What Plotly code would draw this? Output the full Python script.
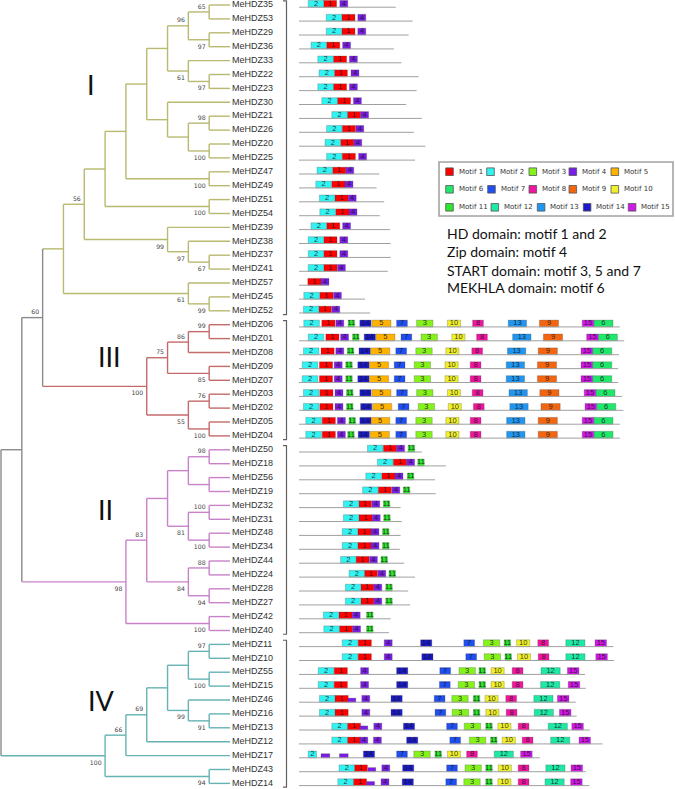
import re
import plotly.graph_objects as go

# ------------------------------------------------------------------
# DATA
# ------------------------------------------------------------------
# Tree topology (Newick) with bootstrap support values
A1 = "((MeHDZ35,MeHDZ53)65,(MeHDZ29,MeHDZ36)97)96"
A2 = "(MeHDZ33,(MeHDZ22,MeHDZ23)97)61"
B1 = "(MeHDZ30,((MeHDZ21,MeHDZ26)98,(MeHDZ20,MeHDZ25)100))"
CLADE_I = ("((((((" + A1 + "," + A2 + ")," + B1 + "),(MeHDZ47,MeHDZ49)100),(MeHDZ51,MeHDZ54)100),"
           "(MeHDZ39,(MeHDZ38,(MeHDZ37,MeHDZ41)67)97)99)56,(MeHDZ57,(MeHDZ45,MeHDZ52)99)61)")
CLADE_III = ("((((MeHDZ06,MeHDZ01)99,MeHDZ08)86,(MeHDZ09,MeHDZ07)85)75,"
             "((MeHDZ03,MeHDZ02)76,(MeHDZ05,MeHDZ04)100)55)100")
CLADE_II = ("(((((MeHDZ50,MeHDZ18)98,(MeHDZ56,MeHDZ19)),((MeHDZ32,MeHDZ31)100,(MeHDZ48,MeHDZ34)100)81),"
            "((MeHDZ44,MeHDZ24)88,(MeHDZ28,MeHDZ27)94)84)83,(MeHDZ42,MeHDZ40)100)98")
CLADE_IV = ("((((((MeHDZ11,MeHDZ10)97,(MeHDZ55,MeHDZ15)100),(MeHDZ46,(MeHDZ16,MeHDZ13)91)99),MeHDZ12)69,"
            "MeHDZ17)66,(MeHDZ43,MeHDZ14)94)100")
NEWICK = "(((" + CLADE_I + "," + CLADE_III + ")60," + CLADE_II + ")," + CLADE_IV + ");"

GROUP_NAMES = ["I", "III", "II", "IV"]
GROUP_CLADES = [CLADE_I, CLADE_III, CLADE_II, CLADE_IV]

GENES = ["MeHDZ35", "MeHDZ53", "MeHDZ29", "MeHDZ36", "MeHDZ33", "MeHDZ22", "MeHDZ23", "MeHDZ30",
         "MeHDZ21", "MeHDZ26", "MeHDZ20", "MeHDZ25", "MeHDZ47", "MeHDZ49", "MeHDZ51", "MeHDZ54",
         "MeHDZ39", "MeHDZ38", "MeHDZ37", "MeHDZ41", "MeHDZ57", "MeHDZ45", "MeHDZ52",
         "MeHDZ06", "MeHDZ01", "MeHDZ08", "MeHDZ09", "MeHDZ07", "MeHDZ03", "MeHDZ02", "MeHDZ05", "MeHDZ04",
         "MeHDZ50", "MeHDZ18", "MeHDZ56", "MeHDZ19", "MeHDZ32", "MeHDZ31", "MeHDZ48", "MeHDZ34",
         "MeHDZ44", "MeHDZ24", "MeHDZ28", "MeHDZ27", "MeHDZ42", "MeHDZ40",
         "MeHDZ11", "MeHDZ10", "MeHDZ55", "MeHDZ15", "MeHDZ46", "MeHDZ16", "MeHDZ13", "MeHDZ12",
         "MeHDZ17", "MeHDZ43", "MeHDZ14"]

# protein lengths (aa)
PROTEIN_LENGTH = [242, 284, 274, 237, 256, 299, 294, 268, 307, 287, 316, 290, 201, 194, 213, 202,
                  228, 229, 229, 222, 75, 165, 178,
                  802, 813, 800, 798, 798, 808, 811, 802, 802,
                  307, 367, 340, 342, 254, 257, 254, 252, 263, 290, 273, 278, 229, 225,
                  786, 788, 715, 717, 692, 694, 727, 759, 602, 717, 726]

# MEME motif widths (aa)
MOTIF_WIDTH = {1: 33, 2: 39, 3: 41, 4: 20, 5: 48, 6: 48, 7: 27, 8: 27, 9: 48, 10: 33,
               11: 16, 12: 48, 13: 46, 14: 28, 15: 29}

# motif sites: (motif, start aa[, width aa for partial hits][, 'p' = weak partial hit])
SITES = [
    [(2, 23), (1, 61), (4, 102)],
    [(2, 68), (1, 107), (4, 147)],
    [(2, 68), (1, 107), (4, 147)],
    [(2, 30), (1, 69), (4, 109)],
    [(2, 47), (1, 86), (4, 126)],
    [(2, 50), (1, 88), (4, 130)],
    [(2, 47), (1, 86), (4, 126)],
    [(2, 57), (1, 96), (4, 136)],
    [(2, 82), (1, 121), (4, 154)],
    [(2, 69), (1, 108), (4, 142)],
    [(2, 65), (1, 104), (4, 137)],
    [(2, 69), (1, 108), (4, 149)],
    [(2, 45), (1, 84), (4, 117)],
    [(2, 42), (1, 82), (4, 115)],
    [(2, 51), (1, 90), (4, 123)],
    [(2, 52), (1, 92), (4, 125)],
    [(2, 30), (1, 69), (4, 109)],
    [(2, 23), (1, 62), (4, 102)],
    [(2, 23), (1, 62), (4, 102)],
    [(2, 23), (1, 62), (4, 96)],
    [(1, 22), (4, 55)],
    [(2, 12), (1, 52), (4, 86)],
    [(2, 11), (1, 48), (4, 82)],
    # group III
    [(2, 12), (1, 57), (4, 92), (11, 123), (14, 152), (5, 182), (7, 244), (3, 294), (10, 371), (8, 434), (13, 523), (9, 601), (15, 708), (6, 737)],
    [(2, 23), (1, 67), (4, 104), (11, 134), (14, 163), (5, 192), (7, 255), (3, 305), (10, 382), (8, 444), (13, 534), (9, 611), (15, 719), (6, 748)],
    [(2, 11), (1, 55), (4, 92), (11, 121), (14, 150), (5, 179), (7, 242), (3, 292), (10, 367), (8, 432), (13, 521), (9, 598), (15, 705), (6, 734)],
    [(2, 8), (1, 51), (4, 88), (11, 117), (14, 147), (5, 176), (7, 238), (3, 288), (10, 365), (8, 428), (13, 518), (9, 596), (15, 705), (6, 734)],
    [(2, 8), (1, 51), (4, 88), (11, 117), (14, 147), (5, 176), (7, 238), (3, 288), (10, 365), (8, 428), (13, 518), (9, 596), (15, 705), (6, 734)],
    [(2, 11), (1, 52), (4, 90), (11, 119), (14, 152), (5, 182), (7, 244), (3, 294), (10, 371), (8, 433), (13, 525), (9, 602), (15, 713), (6, 742)],
    [(2, 11), (1, 52), (4, 90), (11, 119), (14, 154), (5, 184), (7, 248), (3, 298), (10, 373), (8, 436), (13, 527), (9, 605), (15, 715), (6, 744)],
    [(2, 17), (1, 58), (4, 96), (11, 125), (14, 152), (5, 179), (7, 242), (3, 292), (10, 367), (8, 428), (13, 519), (9, 598), (15, 708), (6, 737)],
    [(2, 17), (1, 58), (4, 96), (11, 122), (14, 148), (5, 178), (7, 242), (3, 292), (10, 367), (8, 428), (13, 519), (9, 598), (15, 708), (6, 737)],
    # group II
    [(2, 171), (1, 211), (4, 244), (11, 273)],
    [(2, 196), (1, 236), (4, 269), (11, 297)],
    [(2, 167), (1, 207), (4, 240), (11, 271)],
    [(2, 159), (1, 198), (4, 232), (11, 261)],
    [(2, 111), (1, 148), (4, 182), (11, 211)],
    [(2, 111), (1, 150), (4, 183), (11, 212)],
    [(2, 108), (1, 147), (4, 180), (11, 209)],
    [(2, 108), (1, 147), (4, 180), (11, 209)],
    [(2, 104), (1, 142), (4, 176), (11, 205)],
    [(2, 125), (1, 163), (4, 197), (11, 225)],
    [(2, 116), (1, 154), (4, 187), (11, 217)],
    [(2, 116), (1, 154), (4, 187), (11, 217)],
    [(2, 61), (1, 100), (4, 133), (11, 169)],
    [(2, 62), (1, 101), (4, 134), (11, 169)],
    # group IV
    [(2, 108), (1, 148), (4, 213), (14, 304), (7, 412), (3, 461), (11, 513), (10, 544), (8, 597), (12, 667), (15, 740)],
    [(2, 108), (1, 148), (4, 213), (14, 307), (7, 417), (3, 463), (11, 515), (10, 546), (8, 598), (12, 667), (15, 742)],
    [(2, 48), (1, 88), (4, 154), (14, 244), (7, 352), (3, 400), (11, 450), (10, 480), (8, 533), (12, 605), (15, 671)],
    [(2, 48), (1, 88), (4, 154), (14, 244), (7, 351), (3, 398), (11, 450), (10, 480), (8, 533), (12, 604), (15, 673)],
    [(2, 51), (1, 90), (4, 122, 20, "p"), (4, 157), (14, 230), (7, 338), (3, 382), (11, 436), (10, 465), (8, 517), (12, 587), (15, 646)],
    [(2, 51), (1, 90), (4, 157), (14, 230), (7, 340), (3, 383), (11, 436), (10, 467), (8, 518), (12, 588), (15, 651)],
    [(2, 82), (1, 121), (4, 152, 20, "p"), (4, 187), (14, 261), (7, 369), (3, 413), (11, 467), (10, 497), (8, 548), (12, 623), (15, 682)],
    [(2, 82), (1, 121), (4, 152), (4, 186), (14, 269), (7, 377), (3, 426), (11, 479), (10, 508), (8, 558), (12, 629), (15, 700)],
    [(2, 23, 21), (4, 55, 22, "p"), (4, 101, 22, "p"), (14, 161), (7, 244), (3, 287), (11, 340), (10, 371), (8, 419), (12, 488), (15, 554)],
    [(2, 100), (1, 138), (4, 172, 20, "p"), (4, 207), (14, 259), (7, 369), (3, 415), (11, 467), (10, 498), (8, 548), (12, 617), (15, 680)],
    [(2, 97), (1, 136), (4, 169, 20, "p"), (4, 205), (14, 258), (7, 367), (3, 412), (11, 467), (10, 497), (8, 548), (12, 615), (15, 679)],
]

MOTIF_COLOR = {1: "#ff0000", 2: "#33f2f2", 3: "#85f21c", 4: "#7a1ee6", 5: "#ffb300",
               6: "#1fe86a", 7: "#1f4ff0", 8: "#f0159e", 9: "#f26511", 10: "#f0f02a",
               11: "#2ee62e", 12: "#1ee8a6", 13: "#2196f0", 14: "#1a1acc", 15: "#d118e8"}

GROUP_COLOR = {"I": "#b9b970", "III": "#c46a6a", "II": "#c982c9", "IV": "#66b3b3"}
BACKBONE_COLOR = "#8a8a8a"

DOMAIN_NOTES = ["HD domain: motif 1 and 2", "Zip domain: motif 4",
                "START domain: motif 3, 5 and 7", "MEKHLA domain: motif 6"]

# ------------------------------------------------------------------
# LAYOUT CONSTANTS (pixels of the 675x789 canvas)
# ------------------------------------------------------------------
W, H = 675, 789
TREE_ROOT_PX, TREE_TIP_PX = 1.0, 230.0
ROW0_PX, ROW_PITCH = 5.0, 13.9
MOTIF_X0_PX, PX_PER_AA = 299.0, 0.4
BOX_H = 0.49            # rows
BOX_SHIFT_PX = 1.2


# ------------------------------------------------------------------
# Newick parsing and cladogram layout
# ------------------------------------------------------------------
def parse(s, i=0):
    if s[i] == "(":
        children = []
        i += 1
        while True:
            child, i = parse(s, i)
            children.append(child)
            if s[i] == ",":
                i += 1
            else:
                i += 1
                break
        j = i
        while i < len(s) and s[i] not in ",();":
            i += 1
        return {"children": children, "bs": s[j:i]}, i
    j = i
    while s[i] not in ",();":
        i += 1
    return {"children": [], "name": s[j:i]}, i


root, _ = parse(NEWICK)
leaf_order = []


def layout(n):
    if not n["children"]:
        n["y"] = len(leaf_order)
        leaf_order.append(n["name"])
        n["h"] = 0
        n["leaves"] = {n["name"]}
    else:
        for c in n["children"]:
            layout(c)
        n["y"] = (n["children"][0]["y"] + n["children"][-1]["y"]) / 2
        n["h"] = max(c["h"] for c in n["children"]) + 1
        n["leaves"] = set().union(*[c["leaves"] for c in n["children"]])


layout(root)
assert leaf_order == GENES, leaf_order
HROOT = root["h"]

group_of = {}
for g, clade in zip(GROUP_NAMES, GROUP_CLADES):
    for name in re.findall(r"MeHDZ\d+", clade):
        group_of[name] = g


def node_color(n):
    gs = {group_of[x] for x in n["leaves"]}
    return GROUP_COLOR[gs.pop()] if len(gs) == 1 else BACKBONE_COLOR


segs = {}
boot = []  # (x, y, text, above)


def walk(n):
    n["x"] = HROOT - n["h"]
    for c in n["children"]:
        walk(c)
    if n["children"]:
        col = node_color(n)
        segs.setdefault(col, []).extend(
            [(n["x"], n["children"][0]["y"]), (n["x"], n["children"][-1]["y"]), (None, None)])
        for c in n["children"]:
            ccol = node_color(c)
            segs.setdefault(ccol, []).extend([(n["x"], c["y"]), (c["x"], c["y"]), (None, None)])
        for k, c in enumerate(n["children"]):
            if c["children"] and c.get("bs"):
                boot.append((c["x"], c["y"], c["bs"], k == 0))


walk(root)

U = (TREE_TIP_PX - TREE_ROOT_PX) / HROOT
xr = [(0 - TREE_ROOT_PX) / U, (W - TREE_ROOT_PX) / U]
yr = [(H - ROW0_PX) / ROW_PITCH, -ROW0_PX / ROW_PITCH]
sh = BOX_SHIFT_PX / ROW_PITCH
y2r = [yr[0] + sh, yr[1] + sh]
x2r = [-MOTIF_X0_PX / PX_PER_AA, (W - MOTIF_X0_PX) / PX_PER_AA]

fig = go.Figure()

# tree branches
for col, pts in segs.items():
    fig.add_trace(go.Scatter(x=[p[0] for p in pts], y=[p[1] for p in pts], mode="lines",
                             line=dict(color=col, width=1.4), hoverinfo="skip",
                             xaxis="x", yaxis="y"))

# bootstrap values
bx, by, bt = [], [], []
for x, y, t, above in boot:
    bx.append(x - 3.5 / U)
    by.append(y + (-4.9 if above else 7.4) / ROW_PITCH)
    bt.append(t)
fig.add_trace(go.Scatter(x=bx, y=by, text=bt, mode="text", textposition="middle left",
                         textfont=dict(family="DejaVu Sans", size=6.2, color="#444"),
                         hoverinfo="skip", xaxis="x", yaxis="y"))

# gene labels
fig.add_trace(go.Scatter(x=[HROOT + 2.0 / U] * len(GENES), y=list(range(len(GENES))), text=GENES,
                         mode="text", textposition="middle right",
                         textfont=dict(family="Liberation Sans", size=9.0, color="#333"),
                         hoverinfo="skip", xaxis="x", yaxis="y"))

# protein backbone lines
lx, ly = [], []
for r, L in enumerate(PROTEIN_LENGTH):
    lx += [0, L, None]
    ly += [r + BOX_H / 2, r + BOX_H / 2, None]
fig.add_trace(go.Scatter(x=lx, y=ly, mode="lines", line=dict(color="#a0a0a0", width=1),
                         hoverinfo="skip", xaxis="x2", yaxis="y2"))

# motif boxes
tx, ty, tt = [], [], []
for m in range(1, 16):
    ys, bases, ws = [], [], []
    pys, pbases, pws = [], [], []
    for r, sites in enumerate(SITES):
        for s in sites:
            if s[0] != m:
                continue
            start = s[1]
            w = s[2] if len(s) > 2 else MOTIF_WIDTH[m]
            partial = len(s) > 3
            if partial:
                pys.append(r + BOX_H / 2 - BOX_H * 0.3)
                pbases.append(start)
                pws.append(w)
            else:
                ys.append(r)
                bases.append(start)
                ws.append(w)
                tx.append(start + w / 2)
                ty.append(r)
                tt.append(str(m))
    if ys:
        fig.add_trace(go.Bar(orientation="h", y=ys, x=ws, base=bases, width=BOX_H,
                             marker=dict(color=MOTIF_COLOR[m], line=dict(color="rgba(70,70,70,0.45)", width=0.6)),
                             hoverinfo="skip", xaxis="x2", yaxis="y2"))
    if pys:
        fig.add_trace(go.Bar(orientation="h", y=pys, x=pws, base=pbases, width=BOX_H * 0.6,
                             marker=dict(color=MOTIF_COLOR[m], line=dict(color="rgba(70,70,70,0.45)", width=0.6)),
                             hoverinfo="skip", xaxis="x2", yaxis="y2"))

fig.add_trace(go.Scatter(x=tx, y=ty, text=tt, mode="text", textposition="middle center",
                         textfont=dict(family="Liberation Sans", size=7.5, color="rgba(20,20,20,0.85)"),
                         hoverinfo="skip", xaxis="x2", yaxis="y2"))

# group brackets
bkx, bky = [], []
for clade in GROUP_CLADES:
    names = re.findall(r"MeHDZ\d+", clade)
    r0, r1 = GENES.index(names[0]), GENES.index(names[-1])
    xb = (286.5 - MOTIF_X0_PX) / PX_PER_AA
    xt = (283.0 - MOTIF_X0_PX) / PX_PER_AA
    bkx += [xt, xb, xb, xt, None]
    bky += [r0 - 0.3, r0 - 0.3, r1 + 0.27, r1 + 0.27, None]
fig.add_trace(go.Scatter(x=bkx, y=bky, mode="lines", line=dict(color="#606060", width=1.2),
                         hoverinfo="skip", xaxis="x2", yaxis="y"))

# roman numerals
for label, (px, py) in zip(GROUP_NAMES, [(91, 84), (109, 356), (105, 509), (101, 700)]):
    fig.add_annotation(x=(px - TREE_ROOT_PX) / U, y=(py - ROW0_PX) / ROW_PITCH, xref="x", yref="y",
                       text=label, showarrow=False, xanchor="center", yanchor="middle",
                       font=dict(family="Lato", size=27, color="#111"))

# legend box
shapes = [dict(type="rect", xref="paper", yref="paper", x0=439 / W, x1=673 / W,
               y0=1 - 216 / H, y1=1 - 162 / H, line=dict(color="#a3a3a3", width=1.6),
               fillcolor="white", layer="below")]
LEG_ROWS = [[1, 2, 3, 4, 5], [6, 7, 8, 9, 10], [11, 12, 13, 14, 15]]
LEG_X = [[445.7, 486.7, 529, 569, 611], [445.7, 487.7, 529, 569, 611], [445.7, 491, 537.3, 583.3, 628.3]]
LEG_Y = [171.7, 189.3, 207.3]
for row, xs, yc in zip(LEG_ROWS, LEG_X, LEG_Y):
    for m, x0 in zip(row, xs):
        shapes.append(dict(type="rect", xref="paper", yref="paper", x0=x0 / W, x1=(x0 + 7.6) / W,
                           y0=1 - (yc + 3.8) / H, y1=1 - (yc - 3.8) / H,
                           fillcolor=MOTIF_COLOR[m], line=dict(color="#555", width=0.8)))
        fig.add_annotation(x=(x0 + 11) / W, y=1 - yc / H, xref="paper", yref="paper",
                           text="Motif %d" % m, showarrow=False, xanchor="left", yanchor="middle",
                           font=dict(family="DejaVu Sans", size=7, color="#333"))

for txt, yc in zip(DOMAIN_NOTES, [233.3, 251.7, 270, 287.7]):
    fig.add_annotation(x=445 / W, y=1 - yc / H, xref="paper", yref="paper", text=txt,
                       showarrow=False, xanchor="left", yanchor="middle",
                       font=dict(family="Lato", size=14, color="#111"))

fig.update_layout(
    width=W, height=H, margin=dict(l=0, r=0, t=0, b=0),
    paper_bgcolor="white", plot_bgcolor="white", showlegend=False, barmode="overlay",
    shapes=shapes,
    xaxis=dict(range=xr, visible=False, domain=[0, 1], fixedrange=True),
    yaxis=dict(range=yr, visible=False, domain=[0, 1], fixedrange=True),
    xaxis2=dict(range=x2r, visible=False, overlaying="x", fixedrange=True),
    yaxis2=dict(range=y2r, visible=False, overlaying="y", fixedrange=True),
)

fig.write_html("out.html", config={"displayModeBar": False},
               post_script="document.body.style.margin='0px';document.body.style.overflow='hidden';")
